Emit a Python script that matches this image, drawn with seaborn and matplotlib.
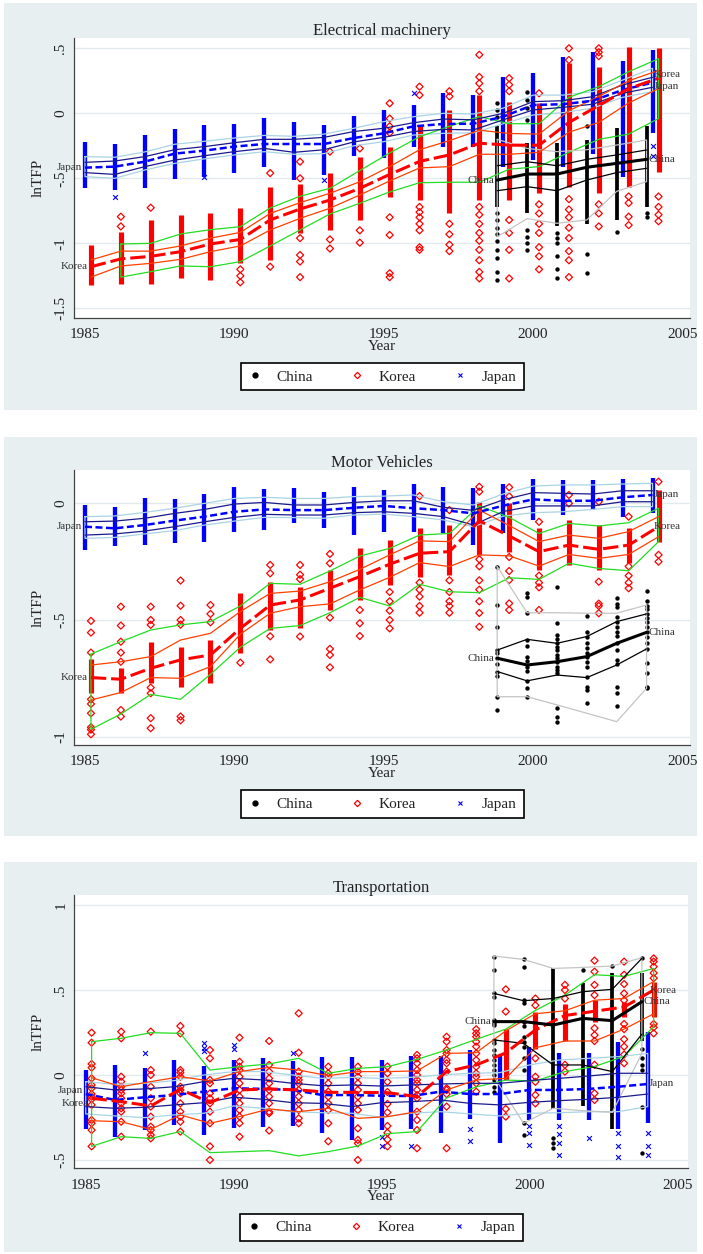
"""
lnTFP by firm and year: China, Korea, Japan in three industries.
Stata-like layout redrawn with seaborn / matplotlib.
"""

import numpy as np
import matplotlib
matplotlib.use("Agg")
import matplotlib.pyplot as plt
from matplotlib.patches import Rectangle
from matplotlib.lines import Line2D
import seaborn as sns

nan = np.nan
YEARS = list(range(1985, 2005))
CHN_YEARS = list(range(1999, 2005))

# -- Electrical machinery ---------------------------------------------------
EM_JPN_MEAN = [-0.418, -0.41, -0.372, -0.31, -0.287, -0.256, -0.236, -0.236, -0.236, -0.19,
               -0.154, -0.1, -0.082, -0.08, -0.025, 0.064, 0.07, 0.097, 0.18, 0.236]
EM_JPN_P75 = [-0.377, -0.367, -0.333, -0.28, -0.256, -0.226, -0.2, -0.2, -0.185, -0.14,
              -0.115, -0.072, -0.044, -0.05, 0.0, 0.09, 0.097, 0.128, 0.218, 0.277]
EM_JPN_P25 = [-0.456, -0.47, -0.41, -0.36, -0.326, -0.295, -0.27, -0.3, -0.28, -0.22,
              -0.185, -0.14, -0.123, -0.128, -0.05, 0.026, 0.046, 0.07, 0.154, 0.2]
EM_JPN_P90 = [-0.333, -0.338, -0.297, -0.238, -0.215, -0.19, -0.17, -0.177, -0.16, -0.115,
              -0.064, -0.026, 0.0, -0.005, 0.04, 0.14, 0.14, 0.167, 0.256, 0.346]
EM_JPN_P10 = [-0.487, -0.5, -0.436, -0.385, -0.35, -0.32, -0.295, -0.315, -0.31, -0.25,
              -0.218, -0.167, -0.154, -0.15, -0.08, -0.013, 0.005, 0.04, 0.123, 0.167]
EM_JPN_LO = [-0.577, -0.59, -0.577, -0.508, -0.487, -0.456, -0.41, -0.51, -0.474, -0.33,
             -0.346, -0.256, -0.256, -0.256, -0.41, -0.36, -0.41, -0.31, -0.49, -0.15]
EM_JPN_HI = [-0.218, -0.236, -0.167, -0.123, -0.09, -0.082, -0.038, -0.064, -0.09, -0.018,
             0.026, 0.064, 0.16, 0.14, 0.277, 0.313, 0.436, 0.474, 0.4, 0.49]
EM_JPN_PTS = [[], [-0.64], [], [], [-0.487], [], [], [], [-0.51], [],
              [], [0.154], [], [], [], [], [], [], [], [-0.25, -0.33]]

EM_KOR_MEAN = [-1.18, -1.12, -1.10, -1.064, -1.005, -0.97, -0.82, -0.736, -0.667, -0.577,
               -0.47, -0.37, -0.32, -0.23, -0.245, -0.245, -0.07, 0.06, 0.19, 0.27]
EM_KOR_P75 = [-1.128, -1.06, -1.06, -1.02, -0.96, -0.916, -0.77, -0.687, -0.615, -0.526,
              -0.41, -0.28, -0.21, -0.13, -0.155, -0.16, 0.02, 0.13, 0.25, 0.33]
EM_KOR_P25 = [-1.26, -1.174, -1.154, -1.123, -1.064, -1.02, -0.897, -0.808, -0.73, -0.628,
              -0.52, -0.42, -0.41, -0.315, -0.315, -0.30, -0.145, -0.07, 0.08, 0.19]
EM_KOR_P90 = [nan, -1.005, -1.0, -0.928, -0.895, -0.872, -0.728, -0.638, -0.577, -0.44,
              -0.305, -0.18, -0.10, -0.025, -0.08, -0.08, 0.123, 0.205, 0.32, 0.42]
EM_KOR_P10 = [nan, -1.26, -1.218, -1.174, -1.18, -1.141, -1.02, -0.897, -0.774, -0.692,
              -0.605, -0.534, -0.53, -0.53, -0.43, -0.41, -0.30, -0.2, -0.16, -0.04]
EM_KOR_LO = [-1.32, -1.31, -1.31, -1.27, -1.28, -1.15, -1.128, -0.92, -0.9, -0.82,
             -0.64, -0.667, -0.77, -0.667, -0.667, -0.615, -0.564, -0.615, -0.564, -0.45]
EM_KOR_HI = [-1.013, -0.91, -0.82, -0.78, -0.765, -0.73, -0.564, -0.54, -0.46, -0.333,
             -0.256, -0.1, 0.026, 0.14, 0.09, 0.077, 0.385, 0.36, 0.51, 0.5]
EM_KOR_PTS = [
    [], [-0.795, -0.87], [-0.726], [], [], [-1.2, -1.25, -1.3], [-0.46, -1.18],
    [-0.372, -0.5, -0.96, -1.09, -1.14, -1.26], [-0.295, -0.97, -1.04], [-0.27, -0.9, -0.995],
    [0.077, -0.04, -0.1, -0.15, -0.8, -0.936, -1.23, -1.26],
    [0.205, 0.14, -0.72, -0.76, -0.8, -0.85, -0.9, -1.03, -1.05],
    [0.17, 0.13, -0.85, -0.93, -1.01, -1.06],
    [0.45, 0.28, 0.23, 0.17, -0.72, -0.78, -0.85, -0.92, -0.98, -1.05, -1.13, -1.22, -1.27],
    [0.27, 0.22, 0.17, -0.82, -0.92, -1.05, -1.27],
    [0.154, -0.7, -0.77, -0.85, -0.92, -1.03, -1.1, -1.2],
    [0.5, 0.41, -0.66, -0.74, -0.8, -0.88, -0.96, -1.06, -1.13, -1.26],
    [0.5, 0.47, 0.44, -0.7, -0.77, -0.87],
    [-0.64, -0.69, -0.795, -0.86],
    [-0.64, -0.72, -0.78, -0.83],
]

EM_CHN_MEAN = [-0.513, -0.467, -0.467, -0.415, -0.385, -0.354]
EM_CHN_P75 = [-0.403, -0.372, -0.403, -0.354, -0.32, -0.282]
EM_CHN_P25 = [-0.595, -0.564, -0.595, -0.513, -0.456, -0.423]
EM_CHN_P90 = [-0.2, -0.27, -0.295, -0.28, -0.244, -0.205]
EM_CHN_P10 = [-0.95, -0.81, -0.846, -0.82, -0.6, -0.525]
EM_CHN_LO = [-0.72, -0.77, -0.87, -0.85, -0.82, -0.72]
EM_CHN_HI = [-0.1, -0.23, -0.23, -0.205, -0.115, -0.1]
EM_CHN_PTS = [
    [0.077, 0.026, -0.026, -0.77, -0.82, -0.88, -0.93, -0.98, -1.05, -1.115, -1.22, -1.28],
    [0.167, 0.1, 0.04, -0.05, -0.9, -0.95, -1.0, -1.05],
    [-0.92, -0.96, -1.0, -1.1, -1.2, -1.27],
    [-0.1, -1.08, -1.23],
    [-0.91],
    [-0.77, -0.8],
]

# -- Motor Vehicles ---------------------------------------------------------
MV_JPN_MEAN = [-0.1, -0.107, -0.093, -0.074, -0.057, -0.036, -0.026, -0.029, -0.029, -0.019,
               -0.011, -0.021, -0.029, -0.043, -0.01, 0.017, 0.011, 0.011, 0.026, 0.036]
MV_JPN_P75 = [-0.079, -0.076, -0.064, -0.043, -0.026, -0.003, 0.004, -0.007, -0.007, 0.004,
              0.011, 0.011, -0.017, -0.03, 0.015, 0.046, 0.043, 0.04, 0.054, 0.054]
MV_JPN_P25 = [-0.136, -0.131, -0.119, -0.1, -0.079, -0.06, -0.047, -0.05, -0.05, -0.04,
              -0.036, -0.043, -0.057, -0.093, -0.035, -0.011, -0.011, -0.011, 0.007, 0.007]
MV_JPN_P90 = [-0.057, -0.054, -0.039, -0.021, 0.0, 0.021, 0.026, 0.021, 0.021, 0.029,
              0.031, 0.036, 0.007, -0.007, 0.04, 0.074, 0.079, 0.079, 0.083, 0.086]
MV_JPN_P10 = [-0.15, -0.146, -0.131, -0.117, -0.093, -0.076, -0.06, -0.061, -0.064, -0.05,
              -0.046, -0.057, -0.071, -0.1, -0.055, -0.04, -0.036, -0.026, -0.014, -0.014]
MV_JPN_LO = [-0.2, -0.183, -0.179, -0.171, -0.164, -0.121, -0.114, -0.086, -0.107, -0.136,
             -0.121, -0.121, -0.129, -0.179, -0.129, -0.071, -0.05, -0.029, -0.057, -0.043]
MV_JPN_HI = [-0.007, -0.014, 0.021, 0.019, 0.039, 0.069, 0.06, 0.064, 0.047, 0.069,
             0.057, 0.083, 0.071, 0.064, 0.083, 0.103, 0.1, 0.1, 0.103, 0.107]
MV_JPN_PTS = [[] for _ in YEARS]

MV_KOR_MEAN = [-0.747, -0.754, -0.707, -0.671, -0.65, -0.536, -0.436, -0.414, -0.364, -0.314,
               -0.261, -0.214, -0.207, -0.075, -0.14, -0.207, -0.179, -0.197, -0.179, -0.1]
MV_KOR_P75 = [-0.693, -0.679, -0.657, -0.586, -0.557, -0.464, -0.386, -0.376, -0.336, -0.283,
              -0.221, -0.161, -0.164, -0.029, -0.095, -0.164, -0.136, -0.15, -0.121, -0.057]
MV_KOR_P25 = [-0.843, -0.811, -0.747, -0.75, -0.7, -0.561, -0.471, -0.443, -0.431, -0.371,
              -0.317, -0.254, -0.271, -0.221, -0.225, -0.269, -0.219, -0.236, -0.219, -0.143]
MV_KOR_P90 = [-0.646, -0.593, -0.543, -0.521, -0.507, -0.44, -0.343, -0.347, -0.29, -0.226,
              -0.193, -0.136, -0.129, -0.011, -0.06, -0.129, -0.086, -0.097, -0.083, -0.021]
MV_KOR_P10 = [-0.969, -0.903, -0.819, -0.84, -0.733, -0.617, -0.536, -0.524, -0.469, -0.403,
              -0.44, -0.347, -0.379, -0.383, -0.319, -0.326, -0.257, -0.279, -0.289, -0.164]
MV_KOR_LO = [-0.814, -0.814, -0.771, -0.786, -0.771, -0.643, -0.543, -0.536, -0.457, -0.414,
             -0.35, -0.314, -0.307, -0.221, -0.207, -0.286, -0.264, -0.286, -0.257, -0.164]
MV_KOR_HI = [-0.669, -0.707, -0.593, -0.614, -0.586, -0.383, -0.336, -0.357, -0.286, -0.193,
             -0.157, -0.107, -0.093, 0.007, 0.0, -0.107, -0.071, -0.093, -0.107, 0.057]
MV_KOR_PTS = [
    [-0.504, -0.554, -0.64, -0.84, -0.86, -0.9, -0.96, -0.97, -0.99],
    [-0.443, -0.524, -0.593, -0.64, -0.679, -0.886, -0.914],
    [-0.443, -0.5, -0.521, -0.79, -0.814, -0.921, -0.964],
    [-0.331, -0.439, -0.5, -0.52, -0.914, -0.93],
    [-0.436, -0.474, -0.51],
    [-0.683],
    [-0.264, -0.3, -0.57, -0.669],
    [-0.264, -0.306, -0.325, -0.571],
    [-0.217, -0.257, -0.49, -0.624, -0.65, -0.703],
    [-0.457, -0.514, -0.569],
    [-0.38, -0.42, -0.46, -0.5, -0.536],
    [0.031, -0.34, -0.37, -0.4, -0.44, -0.469],
    [-0.029, -0.33, -0.38, -0.42, -0.44, -0.469],
    [0.071, 0.05, -0.24, -0.27, -0.33, -0.37, -0.42, -0.47, -0.529],
    [0.069, 0.03, -0.23, -0.29, -0.329, -0.429, -0.457],
    [-0.079, -0.31, -0.34, -0.36, -0.457],
    [0.036, 0.0],
    [0.007, -0.336, -0.43, -0.44, -0.471],
    [-0.057, -0.27, -0.31, -0.34, -0.364],
    [0.093, -0.221, -0.25],
]

MV_CHN_MEAN = [-0.664, -0.693, -0.679, -0.657, -0.6, -0.553]
MV_CHN_P75 = [-0.629, -0.583, -0.6, -0.571, -0.507, -0.474]
MV_CHN_P25 = [-0.721, -0.761, -0.736, -0.747, -0.693, -0.624]
MV_CHN_P90 = [-0.271, -0.469, -0.469, -0.471, -0.471, -0.436]
MV_CHN_P10 = [-0.829, -0.829, -0.864, -0.9, -0.936, -0.793]
MV_CHN_LO = [nan] * 6
MV_CHN_HI = [nan] * 6
MV_CHN_PTS = [
    [-0.271, -0.436, -0.529, -0.629, -0.64, -0.664, -0.69, -0.721, -0.74, -0.829, -0.886],
    [-0.386, -0.4, -0.471, -0.586, -0.61, -0.66, -0.674, -0.7, -0.72, -0.761, -0.79, -0.829],
    [-0.357, -0.514, -0.564, -0.58, -0.6, -0.615, -0.63, -0.65, -0.665, -0.68, -0.7, -0.715,
     -0.729, -0.879, -0.914, -0.936],
    [-0.481, -0.55, -0.571, -0.6, -0.62, -0.64, -0.657, -0.68, -0.7, -0.743, -0.786, -0.8, -0.857],
    [-0.407, -0.43, -0.443, -0.486, -0.507, -0.53, -0.55, -0.57, -0.6, -0.629, -0.67, -0.69,
     -0.786, -0.814, -0.869],
    [-0.374, -0.42, -0.44, -0.455, -0.474, -0.49, -0.51, -0.53, -0.553, -0.571, -0.6, -0.624,
     -0.683, -0.729, -0.786, -0.79],
]

# -- Transportation ---------------------------------------------------------
TR_JPN_MEAN = [-0.112, -0.147, -0.131, -0.118, -0.098, -0.078, -0.082, -0.088, -0.118, -0.118,
               -0.122, -0.124, -0.098, -0.112, -0.112, -0.088, -0.088, -0.082, -0.069, -0.053]
TR_JPN_P75 = [-0.069, -0.088, -0.082, -0.069, -0.039, -0.02, -0.029, -0.049, -0.063, -0.059,
              -0.065, -0.059, -0.053, -0.049, -0.049, -0.033, -0.02, -0.006, 0.01, 0.01]
TR_JPN_P25 = [-0.186, -0.196, -0.19, -0.176, -0.163, -0.131, -0.143, -0.163, -0.167, -0.186,
              -0.163, -0.157, -0.147, -0.167, -0.176, -0.161, -0.151, -0.143, -0.131, -0.112]
TR_JPN_P90 = [-0.039, -0.055, -0.049, -0.033, 0.0, 0.02, 0.02, 0.0, -0.02, -0.014,
              -0.02, -0.014, 0.0, 0.01, 0.014, 0.059, 0.088, 0.098, 0.108, 0.127]
TR_JPN_P10 = [-0.229, -0.241, -0.251, -0.235, -0.225, -0.182, -0.196, -0.216, -0.222, -0.225,
              -0.249, -0.225, -0.216, -0.229, -0.241, -0.225, -0.222, -0.216, -0.216, -0.186]
TR_JPN_LO = [-0.32, -0.363, -0.324, -0.294, -0.353, -0.314, -0.304, -0.3, -0.343, -0.382,
             -0.324, -0.32, -0.34, -0.26, -0.4, -0.265, -0.265, -0.265, -0.32, -0.284]
TR_JPN_HI = [0.029, 0.059, 0.039, 0.088, 0.05, 0.09, 0.098, 0.08, 0.108, 0.108,
             0.088, 0.113, 0.109, 0.148, 0.109, 0.167, 0.131, 0.127, 0.196, 0.255]
TR_JPN_PTS = [[], [], [0.127], [], [0.186, 0.16, 0.14], [0.176, 0.15], [], [0.127], [], [],
              [-0.363, -0.42], [-0.42], [], [-0.32, -0.39], [], [-0.3, -0.34, -0.41],
              [-0.3, -0.35, -0.4, -0.47], [-0.373], [-0.34, -0.42, -0.48], [-0.34, -0.42, -0.47]]

TR_KOR_MEAN = [-0.137, -0.157, -0.182, -0.084, -0.163, -0.088, -0.082, -0.088, -0.102, -0.102,
               -0.104, -0.127, 0.02, 0.059, 0.13, 0.265, 0.35, 0.375, 0.40, 0.5]
TR_KOR_P75 = [-0.016, -0.069, -0.039, -0.01, -0.035, 0.02, 0.045, 0.029, -0.004, 0.02,
              0.02, 0.024, 0.127, 0.131, 0.26, 0.36, 0.378, 0.44, 0.45, 0.55]
TR_KOR_P25 = [-0.269, -0.275, -0.32, -0.235, -0.284, -0.245, -0.2, -0.216, -0.196, -0.255,
              -0.245, -0.216, -0.088, -0.029, -0.02, 0.16, 0.2, 0.2, 0.27, 0.36]
TR_KOR_P90 = [0.196, 0.216, 0.249, 0.245, 0.029, 0.049, 0.065, 0.098, 0.01, 0.039,
              0.049, 0.092, 0.147, 0.21, 0.27, 0.38, 0.47, 0.59, 0.58, 0.627]
TR_KOR_P10 = [-0.42, -0.363, -0.373, -0.333, -0.457, -0.451, -0.445, -0.476, -0.451, -0.418,
              -0.345, -0.333, -0.135, -0.07, -0.03, -0.035, 0.02, 0.05, 0.11, 0.284]
TR_KOR_LO = [nan] * 14 + [-0.03, 0.15, 0.2, 0.31, 0.34, 0.34]
TR_KOR_HI = [nan] * 14 + [0.27, 0.37, 0.42, 0.44, 0.43, 0.55]
TR_KOR_PTS = [
    [0.249, 0.19, 0.065, 0.043, -0.02, -0.059, -0.078, -0.112, -0.127, -0.143, -0.176,
     -0.265, -0.284, -0.324, -0.42],
    [0.255, 0.216, -0.01, -0.039, -0.069, -0.088, -0.108, -0.137, -0.167, -0.196, -0.216,
     -0.275, -0.363],
    [0.255, 0.029, 0.0, -0.069, -0.137, -0.186, -0.245, -0.304, -0.324, -0.353, -0.373],
    [0.288, 0.245, 0.029, 0.014, -0.01, -0.069, -0.088, -0.108, -0.167, -0.216, -0.245,
     -0.275, -0.333],
    [0.147, 0.098, -0.029, -0.049, -0.108, -0.137, -0.167, -0.216, -0.284, -0.42, -0.5],
    [0.22, 0.078, 0.049, 0.029, -0.01, -0.049, -0.088, -0.127, -0.167, -0.206, -0.245,
     -0.284, -0.363],
    [0.2, 0.059, 0.02, -0.02, -0.049, -0.088, -0.127, -0.167, -0.216, -0.225, -0.327],
    [0.363, 0.131, 0.02, -0.01, -0.029, -0.049, -0.088, -0.127, -0.167, -0.206, -0.255, -0.284],
    [0.049, 0.01, -0.01, -0.049, -0.098, -0.127, -0.167, -0.206, -0.284, -0.39],
    [0.049, 0.02, -0.01, -0.049, -0.088, -0.127, -0.167, -0.206, -0.314, -0.382, -0.402, -0.5],
    [0.05, 0.01, -0.04, -0.1, -0.17, -0.22, -0.3, -0.34, -0.38, -0.42],
    [0.118, 0.098, 0.069, 0.029, 0.0, -0.029, -0.049, -0.088, -0.118, -0.137, -0.216,
     -0.265, -0.324, -0.431],
    [0.225, 0.196, 0.147, 0.127, 0.088, 0.069, 0.02, -0.078, -0.088, -0.112, -0.186, -0.431],
    [0.269, 0.245, 0.225, 0.196, 0.167, 0.127, 0.088, 0.049, 0.01, -0.01, -0.049, -0.098],
    [0.504, 0.373, -0.2, -0.245],
    [0.45, 0.41, 0.098, -0.01, -0.04, -0.118, -0.167],
    [0.53, 0.5, 0.45, 0.06, 0.02],
    [0.673, 0.608, 0.53, 0.47, 0.275, 0.235, 0.2, 0.06, -0.108, -0.147],
    [0.667, 0.59, 0.535, 0.48, 0.44, 0.3, 0.27, 0.21, 0.167, 0.12, 0.069],
    [0.686, 0.667, 0.637, 0.6, 0.57, 0.3, 0.28, 0.245],
]

TR_CHN_MEAN = [0.314, 0.314, 0.294, 0.333, 0.32, 0.431]
TR_CHN_P75 = [0.48, 0.437, 0.45, 0.49, 0.504, 0.686]
TR_CHN_P25 = [0.206, 0.186, 0.059, 0.059, 0.02, 0.24]
TR_CHN_P90 = [0.70, 0.68, 0.627, 0.633, 0.641, 0.69]
TR_CHN_P10 = [-0.01, -0.284, -0.196, -0.21, -0.22, 0.127]
TR_CHN_LO = [nan, nan, -0.2, -0.18, -0.32, 0.2]
TR_CHN_HI = [nan, nan, 0.627, 0.54, 0.6, 0.6]
TR_CHN_PTS = [
    [0.696, 0.618, 0.48, 0.46, 0.324, 0.308, 0.294, 0.206, 0.186, 0.147, 0.118, 0.088,
     0.059, 0.029, 0.0, -0.029, -0.07, -0.1],
    [0.68, 0.633, 0.44, 0.425, 0.31, 0.29, 0.225, 0.196, 0.167, 0.098, 0.03, -0.284, -0.353],
    [-0.373, -0.4, -0.431],
    [0.618],
    [0.64],
    [0.686, 0.15, 0.1, 0.06, 0.03, -0.186, -0.46],
]

# -- Style ------------------------------------------------------------------
W, H = 703, 1254
BG = "#e8eff1"
GRID = "#e2eaec"
TXT = "#222222"
FONT = "Liberation Serif"

STYLE = {
    "China": dict(off=-0.2, color="black", marker="o", s=10, strip=2.7,
                  mean_lw=2.2, mean_ls="-", quart="black", band="#c4c4c4"),
    "Korea": dict(off=0.2, color="red", marker="D", s=13, strip=3.7,
                  mean_lw=2.2, mean_ls=(0, (5, 1.6)), quart="#ff4000", band="#22dd22"),
    "Japan": dict(off=0.0, color="blue", marker="x", s=12, strip=3.1,
                  mean_lw=1.8, mean_ls=(0, (2.8, 1.4)), quart="#1a1a8c", band="#a9d4e4"),
}


def country(years, mean, p75, p25, p90, p10, lo, hi, pts):
    return dict(years=years, mean=mean, p75=p75, p25=p25, p90=p90, p10=p10,
                lo=lo, hi=hi, pts=pts)


PANELS = [
    dict(title="Electrical machinery",
         rect=(74.3, 38.3, 690, 317.7), bg=(4, 3, 697, 410),
         xlim=(1984.642, 2005.254), ylim=(-1.572, 0.577),
         yticks=[0.5, 0, -0.5, -1, -1.5], ylabels=[".5", "0", "-.5", "-1", "-1.5"],
         nudge={("Korea", 1): 4, ("Japan", 1): -4},
         data={
             "China": country(CHN_YEARS, EM_CHN_MEAN, EM_CHN_P75, EM_CHN_P25, EM_CHN_P90,
                              EM_CHN_P10, EM_CHN_LO, EM_CHN_HI, EM_CHN_PTS),
             "Korea": country(YEARS, EM_KOR_MEAN, EM_KOR_P75, EM_KOR_P25, EM_KOR_P90,
                              EM_KOR_P10, EM_KOR_LO, EM_KOR_HI, EM_KOR_PTS),
             "Japan": country(YEARS, EM_JPN_MEAN, EM_JPN_P75, EM_JPN_P25, EM_JPN_P90,
                              EM_JPN_P10, EM_JPN_LO, EM_JPN_HI, EM_JPN_PTS),
         }),
    dict(title="Motor Vehicles",
         rect=(74.3, 470, 690, 745), bg=(4, 437, 697, 836),
         xlim=(1984.642, 2005.254), ylim=(-1.036, 0.143),
         yticks=[0, -0.5, -1], ylabels=["0", "-.5", "-1"],
         nudge={},
         data={
             "China": country(CHN_YEARS, MV_CHN_MEAN, MV_CHN_P75, MV_CHN_P25, MV_CHN_P90,
                              MV_CHN_P10, MV_CHN_LO, MV_CHN_HI, MV_CHN_PTS),
             "Korea": country(YEARS, MV_KOR_MEAN, MV_KOR_P75, MV_KOR_P25, MV_KOR_P90,
                              MV_KOR_P10, MV_KOR_LO, MV_KOR_HI, MV_KOR_PTS),
             "Japan": country(YEARS, MV_JPN_MEAN, MV_JPN_P75, MV_JPN_P25, MV_JPN_P90,
                              MV_JPN_P10, MV_JPN_LO, MV_JPN_HI, MV_JPN_PTS),
         }),
    dict(title="Transportation",
         rect=(74.3, 895, 688, 1168.3), bg=(4, 862, 697, 1252),
         xlim=(1984.615, 2005.36), ylim=(-0.549, 1.059),
         yticks=[1, 0.5, 0, -0.5], ylabels=["1", ".5", "0", "-.5"],
         nudge={("Japan", 0): 4, ("Korea", 0): -5},
         data={
             "China": country(CHN_YEARS, TR_CHN_MEAN, TR_CHN_P75, TR_CHN_P25, TR_CHN_P90,
                              TR_CHN_P10, TR_CHN_LO, TR_CHN_HI, TR_CHN_PTS),
             "Korea": country(YEARS, TR_KOR_MEAN, TR_KOR_P75, TR_KOR_P25, TR_KOR_P90,
                              TR_KOR_P10, TR_KOR_LO, TR_KOR_HI, TR_KOR_PTS),
             "Japan": country(YEARS, TR_JPN_MEAN, TR_JPN_P75, TR_JPN_P25, TR_JPN_P90,
                              TR_JPN_P10, TR_JPN_LO, TR_JPN_HI, TR_JPN_PTS),
         }),
]


def draw_points(ax, d, st):
    x = np.array(d["years"], dtype=float) + st["off"]
    lo = np.array(d["lo"], dtype=float)
    hi = np.array(d["hi"], dtype=float)
    ok = ~np.isnan(lo)
    # dense part of a year's cloud: markers overlap into a solid strip
    if ok.any():
        ax.vlines(x[ok], lo[ok], hi[ok], colors=st["color"], lw=st["strip"], zorder=2)
    px = [xi for xi, vals in zip(x, d["pts"]) for _ in vals]
    py = [v for vals in d["pts"] for v in vals]
    if not px:
        return
    if st["marker"] == "D":
        sns.scatterplot(x=px, y=py, ax=ax, marker="D", s=st["s"], color=st["color"],
                        facecolor="none", edgecolor=st["color"], linewidth=0.9, zorder=3)
    else:
        sns.scatterplot(x=px, y=py, ax=ax, marker=st["marker"], s=st["s"],
                        color=st["color"], linewidth=0.8 if st["marker"] == "x" else 0,
                        zorder=3)


def draw_lines(ax, d, st):
    x = np.array(d["years"], dtype=float) + st["off"]
    p90 = np.array(d["p90"], dtype=float)
    p10 = np.array(d["p10"], dtype=float)
    ok = ~np.isnan(p90)
    # outer band drawn as one closed outline, as in the source graph
    bx = np.concatenate([x[ok], x[ok][::-1], x[ok][:1]])
    by = np.concatenate([p90[ok], p10[ok][::-1], p90[ok][:1]])
    sns.lineplot(x=bx, y=by, ax=ax, sort=False, estimator=None, color=st["band"],
                 lw=0.9, zorder=4)
    for key in ("p75", "p25"):
        sns.lineplot(x=x, y=d[key], ax=ax, sort=False, estimator=None,
                     color=st["quart"], lw=0.9, zorder=5)
    sns.lineplot(x=x, y=d["mean"], ax=ax, sort=False, estimator=None, color=st["color"],
                 lw=st["mean_lw"], linestyle=st["mean_ls"], zorder=6)


def label_ends(ax, name, d, st, nudge):
    x0 = d["years"][0] + st["off"] - 0.1
    ax.annotate(name, (x0, d["mean"][0]), xytext=(0, nudge.get((name, 0), 0) * 0.72),
                textcoords="offset points", ha="right", va="center", fontsize=8,
                color="#333333", zorder=8)
    x1 = d["years"][-1] + min(st["off"], 0) + 0.05
    ax.annotate(name, (x1, d["mean"][-1]), xytext=(0, nudge.get((name, 1), 0) * 0.72),
                textcoords="offset points", ha="left", va="center", fontsize=8,
                color="#333333", zorder=8, annotation_clip=False)


def fig_rect(l, t, r, b):
    return [l / W, 1 - b / H, (r - l) / W, (b - t) / H]


def main():
    sns.set_theme(style="white")
    plt.rcParams["font.family"] = [FONT, "DejaVu Serif"]
    plt.rcParams["text.color"] = TXT

    fig = plt.figure(figsize=(W / 100, H / 100), dpi=100)
    fig.patch.set_facecolor("white")

    for p in PANELS:
        bx0, by0, bx1, by1 = p["bg"]
        fig.patches.append(Rectangle((bx0 / W, 1 - by1 / H), (bx1 - bx0) / W, (by1 - by0) / H,
                                     transform=fig.transFigure, facecolor=BG,
                                     edgecolor="none", zorder=-10))
        ax = fig.add_axes(fig_rect(*p["rect"]))
        ax.set_facecolor("white")
        for ytk in p["yticks"]:
            ax.axhline(ytk, color=GRID, lw=1.0, zorder=0)

        for name in ("China", "Korea", "Japan"):
            draw_points(ax, p["data"][name], STYLE[name])
        for name in ("Japan", "Korea", "China"):
            draw_lines(ax, p["data"][name], STYLE[name])
        for name in ("Japan", "Korea", "China"):
            label_ends(ax, name, p["data"][name], STYLE[name], p["nudge"])

        ax.set_xlim(*p["xlim"])
        ax.set_ylim(*p["ylim"])
        ax.set_xticks([1985, 1990, 1995, 2000, 2005])
        ax.set_xticklabels(["1985", "1990", "1995", "2000", "2005"])
        ax.set_yticks(p["yticks"])
        ax.set_yticklabels(p["ylabels"], rotation=90, va="center")
        ax.tick_params(axis="both", direction="out", length=4, width=0.9, color="#444444",
                       labelsize=11, labelcolor=TXT)
        ax.tick_params(axis="x", pad=3.5)
        ax.tick_params(axis="y", pad=1)
        for side in ("top", "right"):
            ax.spines[side].set_visible(False)
        for side in ("left", "bottom"):
            ax.spines[side].set_color("#444444")
            ax.spines[side].set_linewidth(0.9)
        ax.set_xlabel("Year", fontsize=11, labelpad=-1)
        ax.set_ylabel("lnTFP", fontsize=11, labelpad=7)
        ax.set_title(p["title"], fontsize=12, pad=2.5)

        handles = [
            Line2D([], [], ls="none", marker="o", ms=3.5, color="black"),
            Line2D([], [], ls="none", marker="D", ms=3.2, mfc="none", mec="red", mew=0.9),
            Line2D([], [], ls="none", marker="x", ms=3.5, color="blue", mew=0.8),
        ]
        l, t, r, b = p["rect"]
        leg = fig.legend(handles, ["China", "Korea", "Japan"], loc="center",
                         bbox_to_anchor=((l + r) / 2 / W, 1 - (b + 59) / H), ncol=3,
                         frameon=True, fancybox=False, framealpha=1, edgecolor="black",
                         fontsize=11, handlelength=1.0, handletextpad=0.9,
                         columnspacing=2.4, borderpad=0.45)
        leg.get_frame().set_linewidth(1.2)

    fig.savefig("out.png", dpi=100)
    plt.close(fig)


if __name__ == "__main__":
    main()
